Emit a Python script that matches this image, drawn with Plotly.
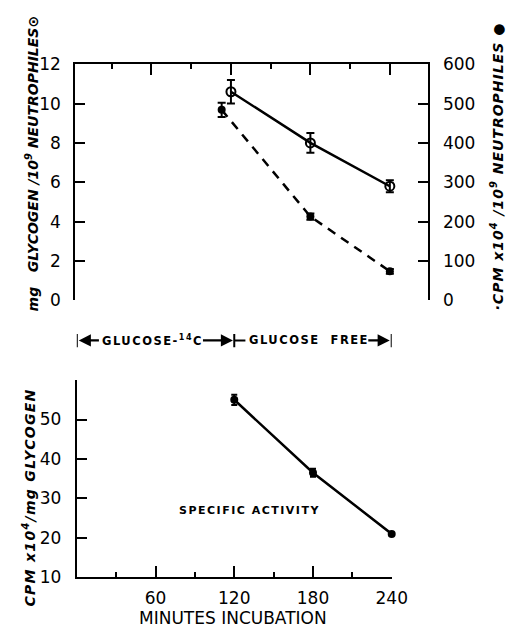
import plotly.graph_objects as go

# ---- data ----
gly_minutes = [120, 180, 240]
gly_mg = [10.6, 8.0, 5.8]
gly_err = [0.6, 0.5, 0.3]

cpm_minutes = [113, 180, 240]
cpm_values = [484, 213, 74]
cpm_err = [18, 8, 6]

sa_minutes = [120, 180, 240]
sa_values = [55, 36.5, 21]
sa_err = [1.3, 1.0, 0.5]

left_ticks = [0, 2, 4, 6, 8, 10, 12]
right_ticks = [0, 100, 200, 300, 400, 500, 600]
bottom_y_ticks = [10, 20, 30, 40, 50, 60]
bottom_y_text = ["10", "20", "30", "40", "50", ""]
major_x = [60, 120, 180, 240]
minor_x = [30, 90, 150, 210]

W, H = 516, 627
FONT = "DejaVu Sans"
BLACK = "black"

fig = go.Figure()

fig.add_trace(go.Scatter(
    x=gly_minutes, y=gly_mg, xaxis="x", yaxis="y", mode="lines+markers",
    line=dict(color=BLACK, width=2.5),
    marker=dict(symbol="circle-open", size=9, color=BLACK, line=dict(width=2, color=BLACK)),
    error_y=dict(type="data", array=gly_err, color=BLACK, thickness=2, width=4),
    cliponaxis=False, showlegend=False))

fig.add_trace(go.Scatter(
    x=cpm_minutes, y=cpm_values, xaxis="x", yaxis="y2", mode="lines+markers",
    line=dict(color=BLACK, width=2.5, dash="9px,7px"),
    marker=dict(symbol="circle", size=8, color=BLACK),
    error_y=dict(type="data", array=cpm_err, color=BLACK, thickness=2, width=4),
    cliponaxis=False, showlegend=False))

fig.add_trace(go.Scatter(
    x=sa_minutes, y=sa_values, xaxis="x2", yaxis="y3", mode="lines+markers",
    line=dict(color=BLACK, width=2.5),
    marker=dict(symbol="circle", size=8, color=BLACK),
    error_y=dict(type="data", array=sa_err, color=BLACK, thickness=2, width=3),
    cliponaxis=False, showlegend=False))

axis_common = dict(showline=True, linewidth=2, linecolor=BLACK, ticks="inside",
                   tickwidth=2, tickcolor=BLACK, showgrid=False, zeroline=False,
                   tickfont=dict(family=FONT, size=17, color=BLACK))

fig.update_layout(
    width=W, height=H, margin=dict(l=0, r=0, t=0, b=0),
    paper_bgcolor="white", plot_bgcolor="white",
    xaxis=dict(domain=[69.5 / W, 433 / W], range=[2.5, 268.5], side="top", anchor="y",
               tickvals=major_x, ticklen=11, showticklabels=False,
               minor=dict(tickvals=minor_x, ticklen=5, tickwidth=2, tickcolor=BLACK, ticks="inside"),
               **axis_common),
    yaxis=dict(domain=[(H - 291.7) / H, (H - 47.7) / H], range=[0, 12], anchor="x",
               tickvals=left_ticks, ticklen=10, ticklabelstandoff=9, **axis_common),
    yaxis2=dict(overlaying="y", side="right", anchor="x", range=[0, 600],
                tickvals=right_ticks, ticklen=10, ticklabelstandoff=10, **axis_common),
    xaxis2=dict(domain=[71 / W, 396 / W], range=[0, 240], anchor="y3",
                tickvals=major_x, ticklen=11, ticklabelstandoff=4,
                minor=dict(tickvals=minor_x, ticklen=5, tickwidth=2, tickcolor=BLACK, ticks="inside"),
                **axis_common),
    yaxis3=dict(domain=[(H - 577.7) / H, (H - 374) / H], range=[10, 60], anchor="x2",
                tickvals=bottom_y_ticks, ticktext=bottom_y_text, ticklen=10,
                ticklabelstandoff=10, **axis_common),
)

title_font = dict(family=FONT, size=14, color=BLACK)
sp = '<span style="letter-spacing:{}px">{}</span>'

annotations = [
    dict(text="<b><i>mg&#160;&#160;&#160;GLYCOGEN /10<sup>9</sup> NEUTROPHILES⊙</i></b>",
         x=25 / W, y=(H - 150) / H, xref="paper", yref="paper", textangle=-90,
         showarrow=False, font=title_font, xanchor="center", yanchor="middle"),
    dict(text="<b><i>" + sp.format(1.0, "·CPM x10<sup>4</sup> /10<sup>9</sup> NEUTROPHILES ●") + "</i></b>",
         x=505 / W, y=(H - 153) / H, xref="paper", yref="paper", textangle=-90,
         showarrow=False, font=title_font, xanchor="center", yanchor="middle"),
    dict(text="<b><i>" + sp.format(1.3, "CPM x10<sup>4</sup>/mg GLYCOGEN") + "</i></b>",
         x=22 / W, y=(H - 495) / H, xref="paper", yref="paper", textangle=-90,
         showarrow=False, font=title_font, xanchor="center", yanchor="middle"),
    dict(text="MINUTES INCUBATION", x=119, y=(H - 620) / H, xref="x2", yref="paper",
         showarrow=False, font=dict(family=FONT, size=17, color=BLACK),
         xanchor="center", yanchor="middle"),
    dict(text="<b>" + sp.format(1.5, "SPECIFIC ACTIVITY") + "</b>", x=131.5, y=26.9,
         xref="x2", yref="y3", showarrow=False,
         font=dict(family=FONT, size=11, color=BLACK), xanchor="center", yanchor="middle"),
]

band_y = (H - 333) / H
band_font = dict(family=FONT, size=11.5, color=BLACK)
annotations += [
    dict(text="<b>" + sp.format(1.5, "GLUCOSE-<sup>14</sup>C") + "</b>", x=57.5, y=band_y,
         xref="x2", yref="paper", showarrow=False, font=band_font,
         xanchor="center", yanchor="middle"),
    dict(text="<b>" + sp.format(1.5, "GLUCOSE&#160;&#160;FREE") + "</b>", x=177, y=band_y,
         xref="x2", yref="paper", showarrow=False, font=band_font,
         xanchor="center", yanchor="middle"),
]
# arrows (head at x, tail at ax), in bottom-axis minutes
arrow_pairs = [(1.5, 18), (119, 95), (238.5, 221)]
for head, tail in arrow_pairs:
    annotations.append(dict(x=head, y=band_y, xref="x2", yref="paper",
                            ax=tail, ay=0, axref="x2", ayref="pixel",
                            showarrow=True, arrowhead=2, arrowsize=1.1, arrowwidth=2.2,
                            arrowcolor=BLACK, text=""))
fig.update_layout(annotations=annotations)

shapes = []
bar_lo, bar_hi = (H - 340) / H, (H - 326.5) / H
for xv in [0, 120, 240]:
    shapes.append(dict(type="line", xref="x2", yref="paper", x0=xv, x1=xv,
                       y0=bar_lo, y1=bar_hi, line=dict(color=BLACK, width=2)))
shapes.append(dict(type="line", xref="x2", yref="paper", x0=120, x1=128.5,
                   y0=band_y, y1=band_y, line=dict(color=BLACK, width=2)))
fig.update_layout(shapes=shapes)

fig.write_html("out.html")
